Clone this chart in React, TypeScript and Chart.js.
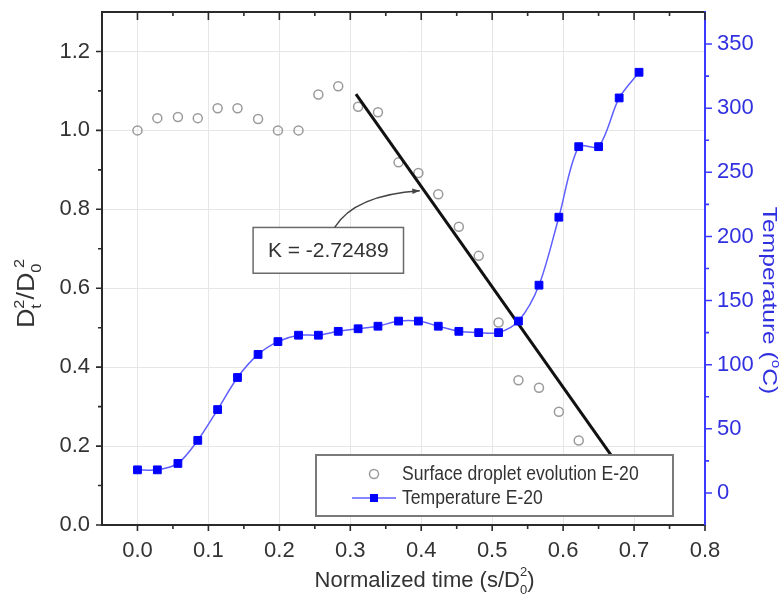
import React, { useEffect, useRef } from "react";
import { Chart, registerables } from "chart.js";

Chart.register(...registerables);

// ---------------- data ----------------
const timeValues = [0, 0.028, 0.057, 0.085, 0.113, 0.141, 0.17, 0.198, 0.227, 0.255, 0.283, 0.311, 0.339, 0.368, 0.396, 0.424, 0.453, 0.481, 0.509, 0.537, 0.566, 0.594, 0.622, 0.65, 0.679, 0.707];
const dropletRatio = [1.0, 1.031, 1.034, 1.031, 1.056, 1.056, 1.029, 1.0, 1.0, 1.091, 1.112, 1.06, 1.046, 0.919, 0.892, 0.838, 0.756, 0.682, 0.513, 0.367, 0.348, 0.287, 0.214];
const temperature = [18, 18, 23, 41, 65, 90, 108, 118, 123, 123, 126, 128, 130, 134, 134, 130, 126, 125, 125, 134, 162, 215, 270, 270, 308, 328];
const fitLineX = [0.308, 0.7];
const fitLineY = [1.092, 0.095];
const xTickValues = [0, 0.1, 0.2, 0.3, 0.4, 0.5, 0.6, 0.7, 0.8];
const xMinorTicks = [0.05, 0.15, 0.25, 0.35, 0.45, 0.55, 0.65, 0.75];
const yTickValues = [0, 0.2, 0.4, 0.6, 0.8, 1.0, 1.2];
const yMinorTicks = [0.1, 0.3, 0.5, 0.7, 0.9, 1.1];
const tempTickValues = [0, 50, 100, 150, 200, 250, 300, 350];
const tempMinorTicks = [25, 75, 125, 175, 225, 275, 325];
const seriesNames = ["Surface droplet evolution E-20", "Temperature E-20"];
const slopeLabel = "K = -2.72489";

// annotation anchor (data units)
const labelBoxX = [0.163, 0.375];
const labelBoxY = [0.638, 0.754];
const arrowStart = [0.278, 0.754];
const arrowCtrl = [0.306, 0.836];
const arrowTip = [0.398, 0.847];

const FONT = "'Liberation Sans', Arial, Helvetica, sans-serif";
const AXIS_DARK = "#2a2a2a";
const TEXT_DARK = "#333333";
const BLUE_AXIS = "#3b3bff";
const BLUE_TEXT = "#3030e0";

type Part = { t?: string; size: number; sub?: string; sup?: string; subDy?: number; supDy?: number; supDx?: number };

function partsWidth(ctx: CanvasRenderingContext2D, parts: Part[]) {
  let w = 0;
  for (const p of parts) {
    ctx.font = `${p.size}px ${FONT}`;
    if (p.t !== undefined) w += ctx.measureText(p.t).width;
    else
      w += Math.max(
        ctx.measureText(p.sub || "").width,
        ctx.measureText(p.sup || "").width + (p.supDx || 0)
      );
  }
  return w;
}

function drawParts(ctx: CanvasRenderingContext2D, parts: Part[], x: number, y: number) {
  let cx = x;
  ctx.textAlign = "left";
  ctx.textBaseline = "alphabetic";
  for (const p of parts) {
    ctx.font = `${p.size}px ${FONT}`;
    if (p.t !== undefined) {
      ctx.fillText(p.t, cx, y);
      cx += ctx.measureText(p.t).width;
    } else {
      const ws = ctx.measureText(p.sub || "").width;
      const wp = ctx.measureText(p.sup || "").width + (p.supDx || 0);
      if (p.sub) ctx.fillText(p.sub, cx, y + (p.subDy || 0));
      if (p.sup) ctx.fillText(p.sup, cx + (p.supDx || 0), y + (p.supDy || 0));
      cx += Math.max(ws, wp);
    }
  }
}

const decorPlugin = {
  id: "decor",
  afterDraw(chart: any) {
    const ctx: CanvasRenderingContext2D = chart.ctx;
    const { left, right, top, bottom } = chart.chartArea;
    const xs = chart.scales.x;
    const ys = chart.scales.y;
    const ts = chart.scales.y2;
    ctx.save();

    // ---- annotation box + arrow ----
    const bx0 = xs.getPixelForValue(labelBoxX[0]);
    const bx1 = xs.getPixelForValue(labelBoxX[1]);
    const by0 = ys.getPixelForValue(labelBoxY[1]);
    const by1 = ys.getPixelForValue(labelBoxY[0]);
    ctx.fillStyle = "#ffffff";
    ctx.fillRect(bx0, by0, bx1 - bx0, by1 - by0);
    ctx.strokeStyle = "#6a6a6a";
    ctx.lineWidth = 1.5;
    ctx.strokeRect(bx0, by0, bx1 - bx0, by1 - by0);
    ctx.fillStyle = TEXT_DARK;
    ctx.font = `21px ${FONT}`;
    ctx.textAlign = "center";
    ctx.textBaseline = "middle";
    ctx.fillText(slopeLabel, (bx0 + bx1) / 2, (by0 + by1) / 2 + 1);

    const ax0 = xs.getPixelForValue(arrowStart[0]);
    const ay0 = ys.getPixelForValue(arrowStart[1]);
    const acx = xs.getPixelForValue(arrowCtrl[0]);
    const acy = ys.getPixelForValue(arrowCtrl[1]);
    const ax1 = xs.getPixelForValue(arrowTip[0]);
    const ay1 = ys.getPixelForValue(arrowTip[1]);
    ctx.strokeStyle = "#444444";
    ctx.lineWidth = 1.4;
    ctx.beginPath();
    ctx.moveTo(ax0, ay0);
    ctx.quadraticCurveTo(acx, acy, ax1, ay1);
    ctx.stroke();
    const ang = Math.atan2(ay1 - acy, ax1 - acx);
    ctx.fillStyle = "#444444";
    ctx.beginPath();
    ctx.moveTo(ax1, ay1);
    ctx.lineTo(ax1 - 8 * Math.cos(ang - 0.35), ay1 - 8 * Math.sin(ang - 0.35));
    ctx.lineTo(ax1 - 8 * Math.cos(ang + 0.35), ay1 - 8 * Math.sin(ang + 0.35));
    ctx.closePath();
    ctx.fill();

    // ---- legend ----
    const lx = left + 214;
    const ly = bottom - 70;
    const lw = 357;
    const lh = 61;
    ctx.fillStyle = "#ffffff";
    ctx.fillRect(lx, ly, lw, lh);
    ctx.strokeStyle = "#7a7a7a";
    ctx.lineWidth = 2;
    ctx.strokeRect(lx, ly, lw, lh);
    const symX = lx + 58;
    const row1 = ly + 19;
    const row2 = ly + 43;
    ctx.strokeStyle = "#9a9a9a";
    ctx.lineWidth = 1.5;
    ctx.beginPath();
    ctx.arc(symX, row1, 4.5, 0, Math.PI * 2);
    ctx.stroke();
    ctx.strokeStyle = "#5f5fff";
    ctx.lineWidth = 1.5;
    ctx.beginPath();
    ctx.moveTo(symX - 22, row2);
    ctx.lineTo(symX + 22, row2);
    ctx.stroke();
    ctx.fillStyle = "#0000ff";
    ctx.fillRect(symX - 4, row2 - 4, 8, 8);
    ctx.fillStyle = TEXT_DARK;
    ctx.font = `17.6px ${FONT}`;
    ctx.textAlign = "left";
    ctx.textBaseline = "middle";
    [row1, row2].forEach((ry, i) => {
      ctx.save();
      ctx.translate(lx + 86, ry);
      ctx.scale(1, 1.15);
      ctx.fillText(seriesNames[i], 0, 0);
      ctx.restore();
    });

    // ---- axes lines ----
    ctx.lineCap = "square";
    ctx.strokeStyle = AXIS_DARK;
    ctx.lineWidth = 2;
    ctx.beginPath();
    ctx.moveTo(left, bottom);
    ctx.lineTo(left, top);
    ctx.lineTo(right, top);
    ctx.moveTo(left, bottom);
    ctx.lineTo(right, bottom);
    ctx.stroke();
    ctx.strokeStyle = BLUE_AXIS;
    ctx.beginPath();
    ctx.moveTo(right, top);
    ctx.lineTo(right, bottom);
    ctx.stroke();

    // ---- ticks ----
    ctx.lineCap = "butt";
    ctx.lineWidth = 1.6;
    ctx.strokeStyle = AXIS_DARK;
    ctx.beginPath();
    xTickValues.forEach((v) => {
      const px = xs.getPixelForValue(v);
      ctx.moveTo(px, bottom);
      ctx.lineTo(px, bottom + 6);
      ctx.moveTo(px, top);
      ctx.lineTo(px, top + 8);
    });
    xMinorTicks.forEach((v) => {
      const px = xs.getPixelForValue(v);
      ctx.moveTo(px, bottom);
      ctx.lineTo(px, bottom + 4);
      ctx.moveTo(px, top);
      ctx.lineTo(px, top + 4);
    });
    yTickValues.forEach((v) => {
      const py = ys.getPixelForValue(v);
      ctx.moveTo(left, py);
      ctx.lineTo(left - 6, py);
    });
    yMinorTicks.forEach((v) => {
      const py = ys.getPixelForValue(v);
      ctx.moveTo(left, py);
      ctx.lineTo(left - 4, py);
    });
    ctx.stroke();
    ctx.strokeStyle = BLUE_AXIS;
    ctx.beginPath();
    tempTickValues.forEach((v) => {
      const py = ts.getPixelForValue(v);
      ctx.moveTo(right, py);
      ctx.lineTo(right + 7, py);
    });
    tempMinorTicks.forEach((v) => {
      const py = ts.getPixelForValue(v);
      ctx.moveTo(right, py);
      ctx.lineTo(right + 4, py);
    });
    ctx.stroke();

    // ---- axis titles ----
    // bottom
    ctx.fillStyle = TEXT_DARK;
    const bParts: Part[] = [
      { t: "Normalized time (s/D", size: 22 },
      { sub: "0", sup: "2", size: 13, subDy: 7, supDy: -11 },
      { t: ")", size: 22 },
    ];
    const bw = partsWidth(ctx, bParts);
    drawParts(ctx, bParts, (left + right) / 2 + 21 - bw / 2, 587);

    // left (rotated, reads bottom to top)
    const lParts: Part[] = [
      { t: "D", size: 23 },
      { sub: "t", sup: "2", size: 14, subDy: 7, supDy: -10 },
      { t: "/D", size: 23 },
      { sub: "0", sup: "2", size: 14, subDy: 7, supDy: -10, supDx: 4 },
    ];
    const lwid = partsWidth(ctx, lParts);
    ctx.save();
    ctx.translate(34, (top + bottom) / 2 + 25);
    ctx.rotate(-Math.PI / 2);
    ctx.scale(1.17, 1);
    drawParts(ctx, lParts, -lwid / 2, 0);
    ctx.restore();

    // right (rotated, reads top to bottom)
    ctx.fillStyle = BLUE_TEXT;
    const rParts: Part[] = [
      { t: "Temperature (", size: 21 },
      { sup: "o", size: 13, supDy: -9 },
      { t: "C)", size: 21 },
    ];
    const rw = partsWidth(ctx, rParts);
    ctx.save();
    ctx.translate(763, (top + bottom) / 2 + 32);
    ctx.rotate(Math.PI / 2);
    ctx.scale(1.17, 1);
    drawParts(ctx, rParts, -rw / 2, 0);
    ctx.restore();

    ctx.restore();
  },
};

export default function App() {
  const canvasRef = useRef<HTMLCanvasElement | null>(null);

  useEffect(() => {
    document.body.style.margin = "0";
    const canvas = canvasRef.current;
    if (!canvas) return;

    const tickFont = { family: FONT, size: 22 };
    const gridColor = "#e6e6e6";
    const noPadY = (scale: any, w: number) => {
      scale.width = w;
      scale.paddingTop = 0;
      scale.paddingBottom = 0;
    };

    const chart = new Chart(canvas, {
      type: "line",
      data: {
        datasets: [
          {
            label: seriesNames[1],
            data: temperature.map((v, i) => ({ x: timeValues[i], y: v })),
            yAxisID: "y2",
            borderColor: "#5f5fff",
            borderWidth: 1.5,
            pointStyle: "rect",
            pointRadius: 5.5,
            pointBackgroundColor: "#0000ff",
            pointBorderColor: "#0000ff",
            pointBorderWidth: 1,
            tension: 0.3,
            fill: false,
            order: 0,
          },
          {
            label: "fit",
            data: fitLineX.map((v, i) => ({ x: v, y: fitLineY[i] })),
            yAxisID: "y",
            borderColor: "#111111",
            borderWidth: 3,
            pointRadius: 0,
            tension: 0,
            fill: false,
            order: 1,
          },
          {
            label: seriesNames[0],
            data: dropletRatio.map((v, i) => ({ x: timeValues[i], y: v })),
            yAxisID: "y",
            showLine: false,
            pointStyle: "circle",
            pointRadius: 4.5,
            pointBorderColor: "#9a9a9a",
            pointBackgroundColor: "rgba(0,0,0,0)",
            pointBorderWidth: 1.5,
            order: 2,
          },
        ] as any,
      },
      options: {
        responsive: false,
        animation: false,
        events: [],
        layout: { padding: { top: 12, left: 0, right: 0, bottom: 0 } },
        plugins: {
          legend: { display: false },
          tooltip: { enabled: false },
        },
        scales: {
          x: {
            type: "linear",
            min: -0.05,
            max: 0.8,
            afterBuildTicks: (scale: any) => {
              scale.ticks = xTickValues.map((v) => ({ value: v }));
            },
            afterFit: (scale: any) => {
              scale.height = 73;
              scale.paddingLeft = 0;
              scale.paddingRight = 0;
            },
            grid: {
              drawTicks: false,
              color: (c: any) => (c.tick && c.tick.value === 0.8 ? "rgba(0,0,0,0)" : gridColor),
              lineWidth: 1,
            },
            border: { display: false },
            ticks: {
              font: tickFont,
              color: TEXT_DARK,
              padding: 13,
              maxRotation: 0,
              autoSkip: false,
              callback: (v: any) => Number(v).toFixed(1),
            },
          },
          y: {
            type: "linear",
            position: "left",
            min: 0,
            max: 1.3,
            afterBuildTicks: (scale: any) => {
              scale.ticks = yTickValues.map((v) => ({ value: v }));
            },
            afterFit: (scale: any) => noPadY(scale, 102),
            grid: {
              drawTicks: false,
              color: (c: any) => (c.tick && c.tick.value === 0 ? "rgba(0,0,0,0)" : gridColor),
              lineWidth: 1,
            },
            border: { display: false },
            ticks: {
              font: tickFont,
              color: TEXT_DARK,
              padding: 12,
              autoSkip: false,
              callback: (v: any) => Number(v).toFixed(1),
            },
          },
          y2: {
            type: "linear",
            position: "right",
            min: -25,
            max: 375,
            afterBuildTicks: (scale: any) => {
              scale.ticks = tempTickValues.map((v) => ({ value: v }));
            },
            afterFit: (scale: any) => noPadY(scale, 78),
            grid: { display: false, drawTicks: false },
            border: { display: false },
            ticks: {
              font: tickFont,
              color: BLUE_TEXT,
              padding: 12,
              autoSkip: false,
              callback: (v: any) => String(v),
            },
          },
        },
      } as any,
      plugins: [decorPlugin as any],
    });

    return () => {
      chart.destroy();
    };
  }, []);

  return (
    <div style={{ width: 783, height: 598, position: "relative", background: "#ffffff" }}>
      <canvas ref={canvasRef} width={783} height={598} style={{ display: "block" }} />
    </div>
  );
}
